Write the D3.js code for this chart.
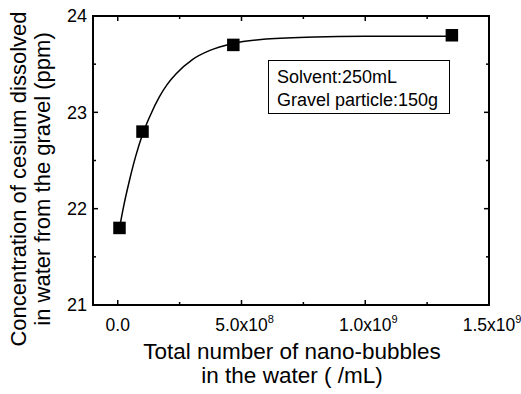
<!DOCTYPE html>
<html>
<head>
<meta charset="utf-8">
<script src="https://cdn.jsdelivr.net/npm/d3@7"></script>
<style>
  html, body { margin: 0; padding: 0; background: #fff; }
  svg text { font-family: "Liberation Sans", Arial, Helvetica, sans-serif; fill: #000; }
</style>
</head>
<body>
<svg id="chart" width="521" height="394"></svg>
<script>
// ---- data ----
const bubbles = [7e6, 1.0e8, 4.67e8, 1.35e9];           // total number of nano-bubbles (/mL)
const cesium  = [21.8, 22.8, 23.7, 23.8];                // ppm
// fitted curve
const fitX = [7e6, 2.5e7, 4.7e7, 7.2e7, 1.0e8, 1.3e8, 1.68e8, 2.0e8, 2.36e8, 3.03e8, 3.7e8, 4.67e8, 6.0e8, 8.0e8, 1.0e9, 1.2e9, 1.35e9];
const fitY = [21.8, 22.04, 22.29, 22.54, 22.77, 22.96, 23.16, 23.29, 23.40, 23.55, 23.64, 23.715, 23.76, 23.783, 23.789, 23.79, 23.79];
const xMajor = [0, 5e8, 1e9, 1.5e9];
const xMajorLabels = [["0.0", ""], ["5.0x10", "8"], ["1.0x10", "9"], ["1.5x10", "9"]];
const xMinor = [2.5e8, 7.5e8, 1.25e9];
const yMajor = [21, 22, 23, 24];
const yMinor = [21.5, 22.5, 23.5];
const legendLines = ["Solvent:250mL", "Gravel particle:150g"];
const xTitle = ["Total number of nano-bubbles", "in the water ( /mL)"];
const yTitle = ["Concentration of cesium dissolved", "in water from the gravel (ppm)"];

// ---- layout ----
const L = 93, R = 489, T = 16, B = 305;
const svg = d3.select("#chart");
const x = d3.scaleLinear().domain([-1e8, 1.5e9]).range([L, R]);
const y = d3.scaleLinear().domain([21, 24]).range([B, T]);

// ticks (inward on all four sides)
const tickG = svg.append("g").attr("stroke", "#000").attr("stroke-width", 1.5);
function ticks(vals, len) {
  vals.forEach(v => {
    tickG.append("line").attr("x1", x(v)).attr("x2", x(v)).attr("y1", B).attr("y2", B - len);
    tickG.append("line").attr("x1", x(v)).attr("x2", x(v)).attr("y1", T).attr("y2", T + len);
  });
}
function yticks(vals, len) {
  vals.forEach(v => {
    tickG.append("line").attr("y1", y(v)).attr("y2", y(v)).attr("x1", L).attr("x2", L + len);
    tickG.append("line").attr("y1", y(v)).attr("y2", y(v)).attr("x1", R).attr("x2", R - len);
  });
}
ticks(xMajor, 5); ticks(xMinor, 3);
yticks(yMajor, 5); yticks(yMinor, 3);

// frame
svg.append("rect").attr("x", L).attr("y", T).attr("width", R - L).attr("height", B - T)
  .attr("fill", "none").attr("stroke", "#000").attr("stroke-width", 2);

// y tick labels
svg.append("g").selectAll("text").data(yMajor).join("text")
  .attr("x", L - 6).attr("y", d => y(d)).attr("dy", "0.36em")
  .attr("text-anchor", "end").attr("font-size", 18).text(d => d);

// x tick labels with superscripts
xMajor.forEach((v, i) => {
  const t = svg.append("text").attr("x", x(v) + (xMajorLabels[i][1] ? 3 : 0)).attr("y", 331)
    .attr("text-anchor", "middle").attr("font-size", 17.5);
  t.append("tspan").text(xMajorLabels[i][0]);
  if (xMajorLabels[i][1]) t.append("tspan").attr("dy", -8).attr("font-size", 11).text(xMajorLabels[i][1]);
});

// fitted curve
const line = d3.line().x((d, i) => x(fitX[i])).y((d, i) => y(fitY[i])).curve(d3.curveMonotoneX);
svg.append("path").attr("d", line(fitX)).attr("fill", "none").attr("stroke", "#000").attr("stroke-width", 1.5);

// markers
const s = 12.5;
svg.append("g").selectAll("rect").data(bubbles).join("rect")
  .attr("x", d => x(d) - s / 2).attr("y", (d, i) => y(cesium[i]) - s / 2)
  .attr("width", s).attr("height", s).attr("fill", "#000");

// legend box
svg.append("rect").attr("x", 268.5).attr("y", 60.5).attr("width", 181).attr("height", 53)
  .attr("fill", "#fff").attr("stroke", "#000").attr("stroke-width", 1);
legendLines.forEach((t, i) => {
  svg.append("text").attr("x", 277).attr("y", 83 + i * 23).attr("font-size", 18).text(t);
});

// axis titles
xTitle.forEach((t, i) => {
  svg.append("text").attr("x", 292).attr("y", 359 + i * 24).attr("text-anchor", "middle")
    .attr("font-size", 22.5).text(t);
});
yTitle.forEach((t, i) => {
  svg.append("text").attr("transform", `translate(${26 + i * 24},179) rotate(-90)`)
    .attr("text-anchor", "middle").attr("font-size", 22).text(t);
});
</script>
</body>
</html>
